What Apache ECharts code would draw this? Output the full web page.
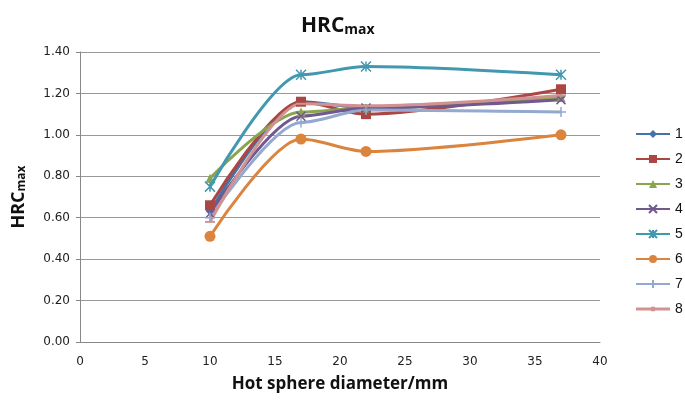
<!DOCTYPE html>
<html>
<head>
<meta charset="utf-8">
<script src="https://cdn.jsdelivr.net/npm/echarts@6/dist/echarts.min.js"></script>
<style>html,body{margin:0;padding:0;background:#fff}#c{width:685px;height:416px}</style>
</head>
<body>
<div id="c"></div>
<script>
var xValues = [10, 17, 22, 37];
var seriesNames = ['1', '2', '3', '4', '5', '6', '7', '8'];
var s1 = [0.63, 1.16, 1.13, 1.18];
var s2 = [0.66, 1.16, 1.10, 1.22];
var s3 = [0.79, 1.11, 1.13, 1.18];
var s4 = [0.62, 1.09, 1.13, 1.17];
var s5 = [0.75, 1.29, 1.33, 1.29];
var s6 = [0.51, 0.98, 0.92, 1.00];
var s7 = [0.60, 1.06, 1.12, 1.11];
var s8 = [0.58, 1.15, 1.14, 1.19];
var yTicks = [0, 0.2, 0.4, 0.6, 0.8, 1.0, 1.2, 1.4];

var allData = [s1, s2, s3, s4, s5, s6, s7, s8];
var colors = ['#4572A7', '#AA4643', '#89A54E', '#71588F', '#4198AF', '#DB843D', '#93A9CF', '#D19392'];
var symbols = [
  'diamond', 'rect', 'triangle',
  'path://M0,0L10,10M10,0L0,10',
  'path://M0,0L10,10M10,0L0,10M5,0L5,10',
  'circle',
  'path://M5,0L5,10M0,5L10,5',
  'path://M0,0L10,0L10,2L0,2Z'
];
var sizes = [8, 10, 9, 9, 10, 11, 10, 10];
var strokeSym = [false, false, false, true, true, false, true, false];

var series = allData.map(function (d, i) {
  return {
    name: seriesNames[i],
    type: 'line',
    smooth: 0.3,
    smoothMonotone: 'x',
    data: xValues.map(function (x, j) { return [x, d[j]]; }),
    symbol: symbols[i],
    symbolSize: sizes[i],
    symbolKeepAspect: true,
    lineStyle: { color: colors[i], width: 3 },
    itemStyle: strokeSym[i]
      ? { color: colors[i], borderColor: colors[i], borderWidth: 1.5 }
      : { color: colors[i] },
    z: i === 4 ? 3 : 2
  };
});

var legendData = seriesNames.map(function (n, i) {
  if (i === 7) {
    return { name: n, icon: 'path://M0,0L0,0M0,3.5L34,3.5L34,6.5L0,6.5ZM15,2.8L19,2.8L19,7.2L15,7.2ZM34,10L34,10' };
  }
  return n;
});

var chart = echarts.init(document.getElementById('c'));
chart.setOption({
  animation: false,
  title: {
    text: '{a|HRC}{b|max}',
    left: 296, top: 4,
    textStyle: {
      rich: {
        a: { fontSize: 21, fontWeight: 'bold', color: '#111', fontFamily: 'Open Sans', verticalAlign: 'bottom', lineHeight: 28 },
        b: { fontSize: 14, fontWeight: 'bold', color: '#111', fontFamily: 'Open Sans', verticalAlign: 'bottom', lineHeight: 28, padding: [10, 0, 0, 0] }
      }
    }
  },
  legend: {
    orient: 'vertical',
    left: 630, top: 122,
    itemWidth: 34, itemHeight: 10,
    itemGap: 11,
    textStyle: { fontSize: 14, color: '#111' },
    data: legendData
  },
  grid: { left: 79, right: 85, top: 52, bottom: 74 },
  xAxis: {
    type: 'value', min: 0, max: 40, interval: 5,
    name: 'Hot sphere diameter/mm',
    nameLocation: 'middle', nameGap: 34,
    nameTextStyle: { fontSize: 17, fontWeight: 'bold', color: '#111', fontFamily: 'Open Sans' },
    axisLine: { lineStyle: { color: '#888', width: 1 } },
    axisTick: { show: false },
    splitLine: { show: false },
    axisLabel: { fontSize: 12, color: '#222', margin: 14, fontFamily: 'DejaVu Sans' }
  },
  yAxis: {
    type: 'value', min: yTicks[0], max: yTicks[yTicks.length - 1], interval: 0.2,
    name: '{a|HRC}{b|max}',
    nameLocation: 'middle', nameGap: 52, nameRotate: 90,
    nameTextStyle: {
      rich: {
        a: { fontSize: 18, fontWeight: 'bold', color: '#111', fontFamily: 'Open Sans', verticalAlign: 'bottom', lineHeight: 24 },
        b: { fontSize: 12, fontWeight: 'bold', color: '#111', fontFamily: 'Open Sans', verticalAlign: 'bottom', lineHeight: 24, padding: [8, 0, 0, 0] }
      }
    },
    axisLine: { show: true, lineStyle: { color: '#888', width: 1 } },
    axisTick: { show: true, length: 4, lineStyle: { color: '#888' } },
    splitLine: { lineStyle: { color: '#999', width: 1 } },
    axisLabel: { fontSize: 12, color: '#222', margin: 10, fontFamily: 'DejaVu Sans',
      formatter: function (v) { return v.toFixed(2); } }
  },
  series: series
});
</script>
</body>
</html>
